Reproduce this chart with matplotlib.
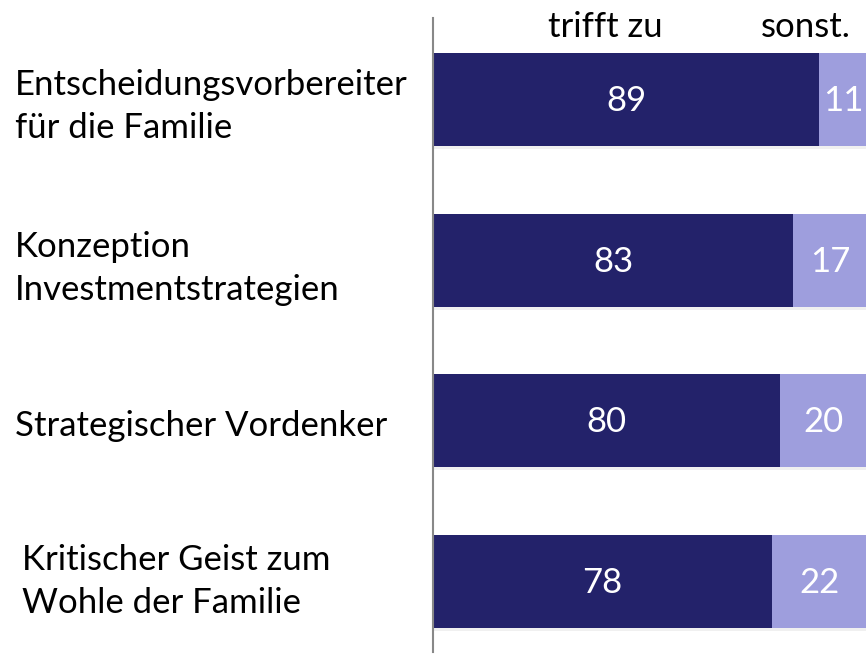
import matplotlib.pyplot as plt
import matplotlib.transforms as mtransforms
import matplotlib.patheffects as pe
import numpy as np

plt.rcParams['font.family'] = ['Lato', 'DejaVu Sans']

categories = ["Entscheidungsvorbereiter\nfür die Familie",
              "Konzeption\nInvestmentstrategien",
              "Strategischer Vordenker",
              "Kritischer Geist zum\nWohle der Familie"]
trifft_zu = [89, 83, 80, 78]
sonst = [11, 17, 20, 22]
headers = ["trifft zu", "sonst."]

dark = '#23226a'
light = '#9e9edd'
fs = 25

fig = plt.figure(figsize=(8.66, 6.54), dpi=100)
ax = fig.add_axes([433 / 866, 2 / 654, 434 / 866, 634 / 654])

y = np.arange(len(categories))
shadow = [pe.SimplePatchShadow(offset=(1, -2), shadow_rgbFace='k', alpha=0.06), pe.Normal()]
ax.barh(y, trifft_zu, height=0.58, color=dark, path_effects=shadow)
ax.barh(y, sonst, left=trifft_zu, height=0.58, color=light, path_effects=shadow)

for i in range(len(y)):
    ax.text(trifft_zu[i] / 2, y[i] + 0.01, str(trifft_zu[i]), color='white',
            ha='center', va='center', fontsize=fs)
    ax.text(trifft_zu[i] + sonst[i] / 2, y[i] + 0.01, str(sonst[i]), color='white',
            ha='center', va='center', fontsize=fs)

ax.set_xlim(0, 100)
ax.set_ylim(3.44, -0.51)
for s in ['top', 'right', 'bottom']:
    ax.spines[s].set_visible(False)
ax.spines['left'].set_color('#888888')
ax.spines['left'].set_linewidth(1.5)
ax.set_xticks([])
ax.set_yticks([])

# category labels on the left
tr = mtransforms.blended_transform_factory(fig.transFigure, ax.transData)
label_x = [15, 15, 15, 22]
label_dy = [0.04, 0.05, 0.03, 0.0]
for i, cat in enumerate(categories):
    ax.text(label_x[i] / 866, y[i] + label_dy[i], cat, transform=tr,
            ha='left', va='center', fontsize=fs, linespacing=1.42,
            color='black', clip_on=False)

# column headers
ax.text(605 / 866, 1 - 27 / 654, headers[0], transform=fig.transFigure,
        ha='center', va='center', fontsize=fs)
ax.text(806 / 866, 1 - 27 / 654, headers[1], transform=fig.transFigure,
        ha='center', va='center', fontsize=fs)

fig.savefig('out.png', dpi=100)
